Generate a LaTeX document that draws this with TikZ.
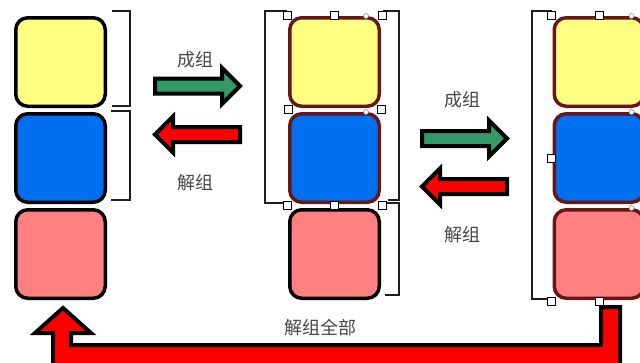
\documentclass[tikz,border=0pt]{standalone}
\usepackage{fontspec}
\newfontfamily\cjkfont{Noto Sans CJK SC}
\usetikzlibrary{positioning}
\definecolor{tileYellow}{RGB}{255,255,128}
\definecolor{tileBlue}{RGB}{0,112,240}
\definecolor{tilePink}{RGB}{255,128,128}
\definecolor{tilePicked}{RGB}{104,22,22}
\definecolor{arrowGreen}{RGB}{51,153,102}
\definecolor{arrowRed}{RGB}{255,0,0}
\definecolor{wordInk}{RGB}{70,70,70}
\definecolor{braceInk}{RGB}{30,30,30}
\tikzset{
  % one coloured square; the selected ones get the dark red edge
  tile/.style={
    draw=black, line width=3.5pt, rounded corners=12pt,
    minimum width=89.5pt, minimum height=88.5pt, inner sep=0pt
  },
  picked/.style={tile, draw=tilePicked},
  % the thin group brackets
  brace/.style={draw=braceInk, line width=1.2pt},
  % selection handles
  handle/.style={draw=black, fill=white, line width=0.7pt,
                 minimum size=8pt, inner sep=0pt},
  knob/.style={circle, draw=gray, fill=white, line width=0.5pt,
               minimum size=5pt, inner sep=0pt},
  % labels
  word/.style={font=\cjkfont\fontsize{18}{18}\selectfont, text=wordInk, inner sep=0pt},
  % fat block arrows
  arrowline/.style={draw=black, line width=4pt, line join=miter},
  fatarrow/.pic={
    \filldraw[arrowline] (0,-7.5) -- (67,-7.5) -- (67,-18) -- (85,0)
      -- (67,18) -- (67,7.5) -- (0,7.5) -- cycle;
  },
}

\begin{document}
\begin{tikzpicture}[x=1pt, y=-1pt]

\useasboundingbox (0,0) rectangle (640,362);

% ------------------------------- left column -------------------------------
\node[tile, fill=tileYellow] (ly) at (60.5,62) {};
\node[tile, fill=tileBlue,  below=4pt of ly] (lb) {};
\node[tile, fill=tilePink,  below=4pt of lb] (lp) {};

\draw[brace] (112,11) -- (130,11) -- (130,106) -- (112,106);
\draw[brace] (111,111) -- (130,111) -- (130,200) -- (111,200);

% ------------------------------- middle column -----------------------------
\node[picked, fill=tileYellow] (my) at (334.5,62) {};
\node[picked, fill=tileBlue, below=4pt of my] (mb) {};
\node[tile, fill=tilePink, below=4pt of mb] (mp) {};

\draw[brace] (287,11) -- (265,11) -- (265,203) -- (287,203);
\draw[brace] (383,11) -- (399,11) -- (399,200) -- (388,200);
\draw[brace] (385,203) -- (399,203) -- (399,295) -- (385,295);

\node[handle] (mh1) at ([shift={(-1pt,1pt)}]my.north west) {};
\node[handle] (mh2) at ([yshift=1pt]my.north) {};
\node[handle] (mh3) at ([shift={(1pt,1pt)}]my.north east) {};
\node[handle] (mh4) at (288,109) {};
\node[handle] (mh5) at (381,109) {};
\node[handle] (mh6) at ([shift={(-1pt,-1pt)}]mb.south west) {};
\node[handle] (mh7) at ([yshift=-1pt]mb.south) {};
\node[handle] (mh8) at ([shift={(1pt,-1pt)}]mb.south east) {};
\node[knob] (mk1) at ([xshift=-15pt]my.north east) {};
\node[knob] (mk2) at ([xshift=-15pt]mb.north east) {};

% ------------------------------- right column ------------------------------
\node[picked, fill=tileYellow] (ry) at (599,62) {};
\node[picked, fill=tileBlue, below=4pt of ry] (rb) {};
\node[picked, fill=tilePink, below=4pt of rb] (rp) {};

\draw[brace] (552,11) -- (532,11) -- (532,299) -- (552,299);

\node[handle] (rh1) at ([shift={(-1pt,1pt)}]ry.north west) {};
\node[handle] (rh2) at ([yshift=1pt]ry.north) {};
\node[handle] (rh3) at ([shift={(1pt,1pt)}]ry.north east) {};
\node[handle] (rh4) at ([xshift=-1pt]rb.west) {};
\node[handle] (rh5) at ([xshift=1pt]rb.east) {};
\node[handle] (rh6) at ([shift={(-1pt,-1pt)}]rp.south west) {};
\node[handle] (rh7) at ([yshift=-1pt]rp.south) {};
\node[handle] (rh8) at ([shift={(1pt,-1pt)}]rp.south east) {};
\node[knob] (rk1) at ([xshift=-14pt]ry.north east) {};
\node[knob] (rk2) at ([xshift=-14pt]rb.north east) {};
\node[knob] (rk3) at ([xshift=-14pt]rp.north east) {};

% ------------------------------- group / ungroup arrows --------------------
\pic[fill=arrowGreen] (joinA) at (155,86) {fatarrow};
\pic[fill=arrowRed, rotate=180] (splitA) at (240,134.5) {fatarrow};
\pic[fill=arrowGreen] (joinB) at (422,138.5) {fatarrow};
\pic[fill=arrowRed, rotate=180] (splitB) at (507,186.5) {fatarrow};

\node[word] (joinAtxt)  at (195,60)  {成组};
\node[word] (splitAtxt) at (195,183) {解组};
\node[word] (joinBtxt)  at (462,100) {成组};
\node[word] (splitBtxt) at (462,235) {解组};

% ------------------------------- ungroup all -------------------------------
\filldraw[arrowline, fill=arrowRed]
  (63,308) -- (91,333) -- (71,333) -- (71,345) -- (601,345) -- (601,307)
  -- (620,307) -- (620,366) -- (53,366) -- (53,333) -- (35,333) -- cycle;
\node[word] (allTxt) at (320,328) {解组全部};

\end{tikzpicture}
\end{document}
